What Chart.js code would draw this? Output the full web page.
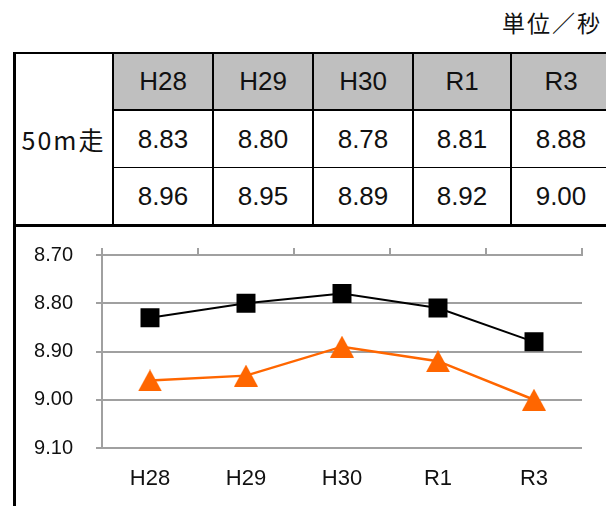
<!DOCTYPE html>
<html>
<head>
<meta charset="utf-8">
<script src="https://cdn.jsdelivr.net/npm/chart.js@4/dist/chart.umd.min.js"></script>
<style>
  body { margin: 0; background: #fff; width: 606px; height: 506px; overflow: hidden; position: relative; }
  .ln { position: absolute; background: #000; }
  .cell { position: absolute; display: flex; align-items: center; justify-content: center;
          font-family: "Liberation Sans", Arial, sans-serif; font-size: 26px; color: #111; }
  #unit { position: absolute; right: 4px; top: 5px; font-family: "Noto Sans CJK JP", sans-serif;
          font-size: 23px; letter-spacing: 2px; color: #111; }
  #label { font-family: "Noto Sans CJK JP", sans-serif; font-size: 25px; letter-spacing: 2px; }
  #chartBox { position: absolute; left: 16px; top: 227px; width: 590px; height: 279px; }
</style>
</head>
<body>
<div id="unit">単位／秒</div>
<div id="chartBox"><canvas id="chart-1"></canvas></div>
<script>
const years = ["H28", "H29", "H30", "R1", "R3"];
const rowLabel = "50m走";
const seriesA = [8.83, 8.80, 8.78, 8.81, 8.88];
const seriesB = [8.96, 8.95, 8.89, 8.92, 9.00];
const yTicks = [8.70, 8.80, 8.90, 9.00, 9.10];

// table
const colX = [15, 114, 214, 314, 414, 512, 612];
const rowY = [54, 111, 168, 224];
function addLine(x, y, w, h) {
  const d = document.createElement("div");
  d.className = "ln";
  d.style.cssText = `left:${x}px;top:${y}px;width:${w}px;height:${h}px`;
  document.body.appendChild(d);
}
function addCell(x, y, w, h, text, bg, id) {
  const d = document.createElement("div");
  d.className = "cell";
  if (id) d.id = id;
  d.style.cssText += `left:${x}px;top:${y}px;width:${w}px;height:${h}px;` + (bg ? `background:${bg};` : "");
  d.textContent = text;
  document.body.appendChild(d);
}
addCell(colX[0], rowY[0], colX[1] - 2 - colX[0], rowY[3] - rowY[0], rowLabel, null, "label");
years.forEach((yr, i) => {
  const x = colX[i + 1], w = colX[i + 2] - 2 - x;
  addCell(x, rowY[0], w, rowY[1] - 2 - rowY[0], yr, "#bfbfbf");
  addCell(x, rowY[1], w, rowY[2] - 1 - rowY[1], seriesA[i].toFixed(2));
  addCell(x, rowY[2], w, rowY[3] - rowY[2], seriesB[i].toFixed(2));
});
addLine(13, 52, 600, 2);
addLine(112, 109, 500, 2);
addLine(112, 167, 500, 1);
addLine(13, 224, 600, 3);
addLine(13, 52, 3, 454);
[112, 212, 312, 412, 510].forEach(x => addLine(x, 52, 2, 174));

// triangle marker centred on its box
const tri = document.createElement("canvas");
tri.width = 24; tri.height = 22;
const tc = tri.getContext("2d");
tc.fillStyle = "#ff6600";
tc.beginPath(); tc.moveTo(12, 0); tc.lineTo(24, 22); tc.lineTo(0, 22); tc.closePath(); tc.fill();

// chart
const gridCol = "#a0a0a0";
const ctx1 = document.getElementById("chart-1").getContext("2d");
const myChart = new Chart(ctx1, {
  type: "line",
  data: {
    labels: years,
    datasets: [
      {
        data: seriesA,
        borderColor: "#000",
        backgroundColor: "#000",
        borderWidth: 2,
        pointStyle: "rect",
        pointRadius: 12,
        pointHoverRadius: 12,
      },
      {
        data: seriesB,
        borderColor: "#ff6600",
        backgroundColor: "#ff6600",
        borderWidth: 2.5,
        pointStyle: tri,
        pointRadius: 12,
      },
    ],
  },
  options: {
    responsive: true,
    maintainAspectRatio: false,
    animation: false,
    layout: { padding: { left: 0, right: 24, top: 0, bottom: 0 } },
    plugins: { legend: { display: false }, tooltip: { enabled: false } },
    scales: {
      x: {
        offset: true,
        grid: { display: false, drawTicks: false },
        border: { display: false },
        ticks: { padding: 18, color: "#111", font: { family: "Liberation Sans", size: 22 } },
        afterFit: (s) => { s.height = 58; },
      },
      x2: {
        type: "category",
        labels: years,
        position: "top",
        offset: true,
        grid: { drawOnChartArea: false, offset: true, tickLength: 7, color: gridCol, lineWidth: 2 },
        border: { color: gridCol, width: 2 },
        ticks: { display: false },
        afterFit: (s) => { s.height = 28; },
      },
      y: {
        reverse: true,
        min: yTicks[0],
        max: yTicks[yTicks.length - 1],
        afterBuildTicks: (s) => { s.ticks = yTicks.map(v => ({ value: v })); },
        afterFit: (s) => { s.width = 86; s.paddingTop = 0; s.paddingBottom = 0; },
        grid: { color: gridCol, lineWidth: 2, tickLength: 6 },
        border: { color: gridCol, width: 2 },
        ticks: {
          padding: 23,
          color: "#111",
          font: { family: "Liberation Sans", size: 20 },
          callback: (v) => Number(v).toFixed(2),
        },
      },
    },
  },
});
</script>
</body>
</html>
